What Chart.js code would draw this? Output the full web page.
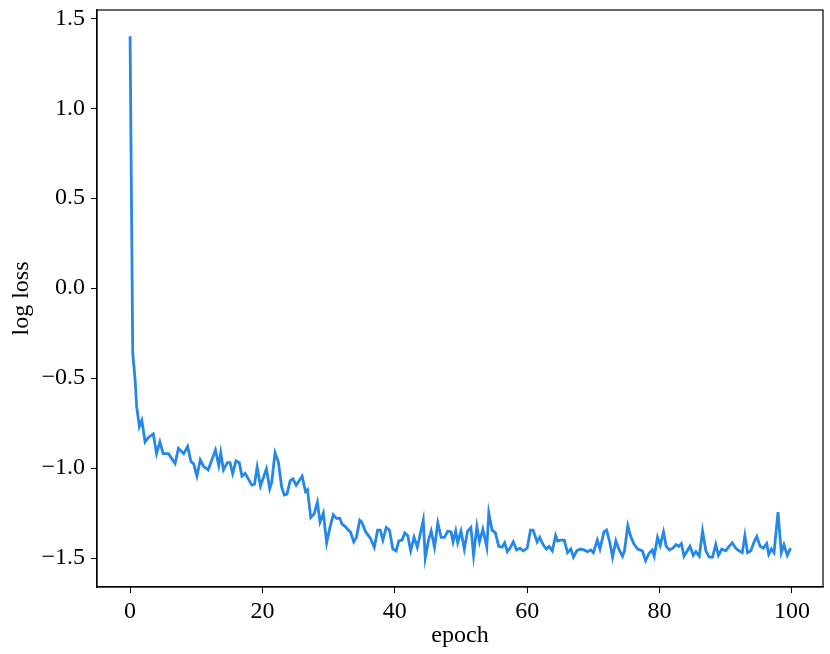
<!DOCTYPE html>
<html>
<head>
<meta charset="utf-8">
<script src="https://cdn.jsdelivr.net/npm/chart.js@4"></script>
<style>
  html, body { margin: 0; padding: 0; background: #fff; }
  #wrap { width: 830px; height: 654px; }
</style>
</head>
<body>
<div id="wrap"><canvas id="c" width="830" height="654"></canvas></div>
<script>
// values
const epochs = [0, 0.4, 0.76, 1.0, 1.4, 1.77, 2.27, 2.77, 3.5, 4.0, 4.5, 5.0, 5.8, 6.8, 7.3, 8.1, 8.7, 9.2, 9.6, 10.1,
  10.6, 11.1, 11.8, 12.9, 13.4, 13.7, 14.1, 14.7, 15.1, 15.5, 16.0, 16.5, 16.9, 17.4, 18.4, 18.8, 19.2, 19.7, 20.6, 21.1,
  21.4, 21.9, 22.4, 22.9, 23.3, 23.7, 24.2, 24.6, 25.1, 26.0, 26.5, 26.8, 27.3, 27.8, 28.3, 28.7, 29.2, 29.7, 30.2, 30.7,
  31.2, 31.7, 32.0, 32.5, 33.0, 33.3, 33.8, 34.2, 34.7, 35.0, 35.6, 36.3, 36.9, 37.4, 37.8, 38.2, 38.7, 39.2, 39.7, 40.2,
  40.6, 41.1, 41.5, 41.95, 42.4, 42.9, 43.4, 44.3, 44.6, 45.1, 45.5, 46.0, 46.5, 47.0, 47.5, 48.0, 48.5, 48.8, 49.2, 49.5,
  50.0, 50.5, 51.0, 51.5, 51.9, 52.4, 52.8, 53.3, 53.9, 54.2, 54.7, 55.2, 55.7, 56.2, 56.6, 57.0, 57.4, 57.9, 58.4, 58.9,
  59.4, 60.0, 60.5, 60.9, 61.5, 61.9, 62.4, 62.9, 63.3, 63.8, 64.3, 64.6, 65.1, 65.6, 66.1, 66.6, 67.0, 67.5, 68.0, 68.6,
  69.1, 69.6, 70.0, 70.6, 71.0, 71.6, 72.0, 72.5, 72.9, 73.4, 73.9, 74.4, 74.7, 75.2, 75.6, 76.1, 76.7, 77.4, 77.9, 78.4,
  78.9, 79.2, 79.7, 80.1, 80.6, 81.0, 81.5, 82.0, 82.5, 82.9, 83.3, 83.7, 84.2, 84.6, 85.1, 85.5, 86.0, 86.5, 87.0, 87.5,
  88.0, 88.5, 88.9, 89.4, 90.0, 90.5, 91.0, 91.5, 92.0, 92.5, 92.9, 93.3, 93.8, 94.3, 94.7, 95.2, 95.7, 96.2, 96.5, 96.9,
  97.3, 97.9, 98.4, 98.8, 99.3, 99.8];

const logLoss = [1.40, -0.36, -0.51, -0.66, -0.77, -0.735, -0.855, -0.83, -0.81, -0.92, -0.855, -0.92, -0.92, -0.975, -0.89, -0.92, -0.88, -0.965, -0.975, -1.045,
  -0.955, -0.99, -1.01, -0.90, -0.985, -0.915, -1.01, -0.97, -0.97, -1.03, -0.96, -0.97, -1.045, -1.03, -1.095, -1.09, -0.995, -1.10, -1.005, -1.115,
  -1.08, -0.915, -0.965, -1.105, -1.15, -1.145, -1.07, -1.06, -1.095, -1.045, -1.13, -1.12, -1.275, -1.255, -1.19, -1.30, -1.25, -1.415, -1.33, -1.26,
  -1.28, -1.28, -1.31, -1.325, -1.345, -1.355, -1.41, -1.385, -1.29, -1.30, -1.355, -1.39, -1.44, -1.345, -1.345, -1.40, -1.33, -1.345, -1.45, -1.46,
  -1.405, -1.40, -1.36, -1.375, -1.46, -1.385, -1.44, -1.29, -1.50, -1.40, -1.35, -1.44, -1.305, -1.385, -1.385, -1.35, -1.355, -1.41, -1.35, -1.415,
  -1.35, -1.45, -1.35, -1.33, -1.485, -1.325, -1.41, -1.34, -1.44, -1.25, -1.345, -1.36, -1.435, -1.44, -1.415, -1.465, -1.445, -1.41, -1.455, -1.445,
  -1.46, -1.445, -1.345, -1.345, -1.41, -1.385, -1.425, -1.45, -1.435, -1.46, -1.375, -1.405, -1.40, -1.40, -1.47, -1.45, -1.495, -1.46, -1.45, -1.455,
  -1.465, -1.455, -1.47, -1.40, -1.45, -1.355, -1.345, -1.415, -1.495, -1.405, -1.455, -1.49, -1.46, -1.32, -1.375, -1.42, -1.45, -1.46, -1.515, -1.475,
  -1.455, -1.49, -1.385, -1.43, -1.355, -1.435, -1.455, -1.445, -1.425, -1.435, -1.42, -1.49, -1.46, -1.435, -1.485, -1.465, -1.49, -1.35, -1.46, -1.495,
  -1.495, -1.425, -1.485, -1.45, -1.46, -1.435, -1.415, -1.445, -1.46, -1.47, -1.375, -1.47, -1.46, -1.41, -1.38, -1.435, -1.445, -1.42, -1.48, -1.45,
  -1.47, -1.245, -1.47, -1.425, -1.485, -1.445];

const xTicks = [0, 20, 40, 60, 80, 100];
const yTicks = [-1.5, -1.0, -0.5, 0.0, 0.5, 1.0, 1.5];

const serif = "'Liberation Serif', 'DejaVu Serif', serif";

// full box around the plot area
const frame = {
  id: 'frame',
  afterDraw(chart) {
    const { ctx, chartArea: a } = chart;
    ctx.save();
    ctx.strokeStyle = '#000';
    ctx.lineWidth = 1.2;
    ctx.strokeRect(a.left, a.top, a.right - a.left, a.bottom - a.top);
    ctx.restore();
  }
};

new Chart(document.getElementById('c').getContext('2d'), {
  type: 'line',
  data: {
    datasets: [{
      data: epochs.map((e, i) => ({ x: e, y: logLoss[i] })),
      borderColor: '#2587e8',
      borderWidth: 2.8,
      pointRadius: 0,
      tension: 0,
      fill: false
    }]
  },
  options: {
    responsive: false,
    animation: false,
    layout: { padding: { left: 3, right: 7, top: 10, bottom: 0 } },
    plugins: { legend: { display: false }, tooltip: { enabled: false } },
    scales: {
      x: {
        type: 'linear',
        min: -5,
        max: 104.7,
        afterBuildTicks: s => { s.ticks = xTicks.map(v => ({ value: v })); },
        afterFit: s => { s.height = 67; s.paddingLeft = 0; s.paddingRight = 0; },
        grid: { display: true, drawOnChartArea: false, drawTicks: true, tickLength: 6, color: '#000' },
        border: { display: true, color: '#000', width: 1.2 },
        ticks: { color: '#000', font: { family: serif, size: 24 }, padding: 4, maxRotation: 0 },
        title: { display: true, text: 'epoch', color: '#000', font: { family: serif, size: 24 }, padding: { top: 0 } }
      },
      y: {
        min: -1.661,
        max: 1.546,
        afterBuildTicks: s => { s.ticks = yTicks.map(v => ({ value: v })); },
        afterFit: s => { s.width = 94; s.paddingTop = 0; s.paddingBottom = 0; },
        grid: { display: true, drawOnChartArea: false, drawTicks: true, tickLength: 6, color: '#000' },
        border: { display: true, color: '#000', width: 1.2 },
        ticks: {
          color: '#000', font: { family: serif, size: 24 }, padding: 6,
          callback: v => v.toFixed(1).replace('-', '\u2212')
        },
        title: { display: true, text: 'log loss', color: '#000', font: { family: serif, size: 24 }, padding: { bottom: 4 } }
      }
    }
  },
  plugins: [frame]
});
</script>
</body>
</html>
